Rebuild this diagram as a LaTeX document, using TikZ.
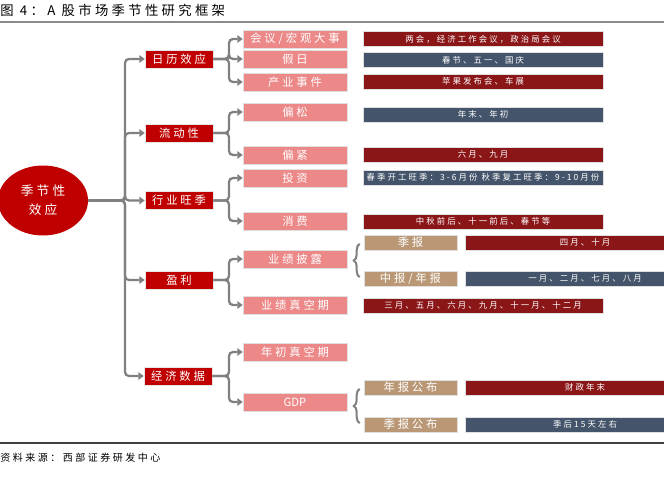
\documentclass[tikz,border=0pt]{standalone}
\usepackage{fontspec}
\setmainfont{Noto Sans CJK SC}
\newfontfamily\cjk[LetterSpace=25]{Noto Sans CJK SC}
\usetikzlibrary{shapes.geometric, arrows.meta, decorations.pathreplacing}
\definecolor{rootred}{RGB}{192, 0, 0}
\definecolor{lvonered}{RGB}{192, 0, 0}
\definecolor{lvtwopink}{RGB}{236, 136, 136}
\definecolor{tagred}{RGB}{139, 22, 24}
\definecolor{tagblue}{RGB}{68, 84, 106}
\definecolor{subtan}{RGB}{186, 152, 118}
\definecolor{linegray}{RGB}{128, 128, 128}

\begin{document}
\begin{tikzpicture}[x=0.75pt, y=-0.75pt,
    root/.style={ellipse, fill=rootred, text=white, minimum width=67.5pt, minimum height=52.5pt,
      inner sep=0pt, align=center, font=\cjk\fontsize{9.5}{14}\selectfont},
    lvone/.style={fill=lvonered, draw=black!10, text=white, minimum width=51pt, minimum height=13.5pt,
      inner sep=0pt, font=\cjk\fontsize{8.5}{9}\selectfont},
    lvtwo/.style={fill=lvtwopink, draw=black!12, text=white, minimum width=78pt, minimum height=13.5pt,
      inner sep=0pt, font=\cjk\fontsize{8.5}{9}\selectfont},
    tag/.style={draw=black!12, text=white, minimum width=180pt, minimum height=11.25pt,
      inner sep=0pt, font=\cjk\fontsize{6.3}{7}\selectfont},
    tagred/.style={tag, fill=tagred},
    tagblue/.style={tag, fill=tagblue},
    sub/.style={fill=subtan, draw=black!12, text=white, minimum width=69.75pt, minimum height=11.25pt,
      inner sep=0pt, font=\cjk\fontsize{8.5}{9}\selectfont},
    arr/.style={draw=linegray, line width=1.7pt, rounded corners=3pt, -{Triangle[length=4pt,width=5.5pt]}},
    brc/.style={draw=linegray, line width=1.5pt, decorate, decoration={brace, amplitude=4.5pt}}]
  \useasboundingbox (0,0) rectangle (664,478);
  \clip (0,0) rectangle (664,478);

  % title and rules
  \node[anchor=west, inner sep=0pt, font=\cjk\fontsize{10}{12}\selectfont] (title) at (0,10) {图 4：A 股市场季节性研究框架};
  \draw[black!45, line width=1.6pt] (0,22) -- (664,22);
  \draw[black!75, line width=1.1pt] (0,443) -- (664,443);
  \node[anchor=west, inner sep=0pt, font=\cjk\fontsize{7.5}{9}\selectfont] (src) at (0,458) {资料来源：西部证券研发中心};

  % branch columns
  \coordinate (tk) at (125,0);
  \coordinate (bx) at (229,0);

  % root
  \node[root] (root) at (43,200.5) {季节性\\效应};

  % first level
  \node[lvone] (cal)  at (179,59)    {日历效应};
  \node[lvone] (liq)  at (179,133)   {流动性};
  \node[lvone] (ind)  at (179,200.5) {行业旺季};
  \node[lvone] (prof) at (179,280)   {盈利};
  \node[lvone] (eco)  at (178,376)   {经济数据};

  % second level
  \node[lvtwo] (meet)  at (295,39)  {会议/宏观大事};
  \node[lvtwo] (hol)   at (295,59)  {假日};
  \node[lvtwo] (evt)   at (295,82)  {产业事件};
  \node[lvtwo] (loose) at (295,112) {偏松};
  \node[lvtwo] (tight) at (295,155) {偏紧};
  \node[lvtwo] (inv)   at (295,178) {投资};
  \node[lvtwo] (cons)  at (295,221) {消费};
  \node[lvtwo] (disc)  at (295,259) {业绩披露};
  \node[lvtwo] (vac)   at (295,305) {业绩真空期};
  \node[lvtwo] (yvac)  at (295,352) {年初真空期};
  \node[lvtwo, font=\fontsize{8.5}{9}\selectfont] (gdp) at (295,402) {GDP};

  % month tags
  \node[tagred]  (tmeet)  at (483,39)    {两会，经济工作会议，政治局会议};
  \node[tagblue] (thol)   at (483,60)    {春节、五一、国庆};
  \node[tagred]  (tevt)   at (483,81.5)  {苹果发布会、车展};
  \node[tagblue] (tloose) at (483,114.5) {年末、年初};
  \node[tagred]  (ttight) at (483,154.5) {六月、九月};
  \node[tagblue] (tinv)   at (483,177.5) {春季开工旺季：3-6月份 秋季复工旺季：9-10月份};
  \node[tagred]  (tcons)  at (483,221.5) {中秋前后、十一前后、春节等};
  \node[tagred]  (tvac)   at (483,305.5) {三月、五月、六月、九月、十一月、十二月};

  % report kinds
  \node[sub] (qrep) at (410.5,242.5) {季报};
  \node[sub] (hrep) at (410.5,278.5) {中报/年报};
  \node[sub] (arep) at (410.5,387.5) {年报公布};
  \node[sub] (qpub) at (410.5,424.5) {季报公布};
  \node[tagred]  (tqrep) at (585,242.5) {四月、十月};
  \node[tagblue] (threp) at (585,278.5) {一月、二月、七月、八月};
  \node[tagred]  (tarep) at (585,387.5) {财政年末};
  \node[tagblue] (tqpub) at (585,424.5) {季后15天左右};

  % trunk
  \foreach \n in {cal, liq, ind, prof, eco}
    \draw[arr] (root.east) -- (root.east -| tk) |- (\n.west);

  % branches
  \foreach \p/\c in {cal/meet, cal/hol, cal/evt, liq/loose, liq/tight, ind/inv, ind/cons,
                     prof/disc, prof/vac, eco/yvac, eco/gdp}
    \draw[arr] (\p.east) -- (\p.east -| bx) |- (\c.west);

  % braces
  \draw[brc] ([xshift=-3pt,yshift=1pt]hrep.west) -- ([xshift=-3pt,yshift=-1pt]qrep.west);
  \draw[brc] ([xshift=-3pt,yshift=1pt]qpub.west) -- ([xshift=-3pt,yshift=-1pt]arep.west);
\end{tikzpicture}
\end{document}
